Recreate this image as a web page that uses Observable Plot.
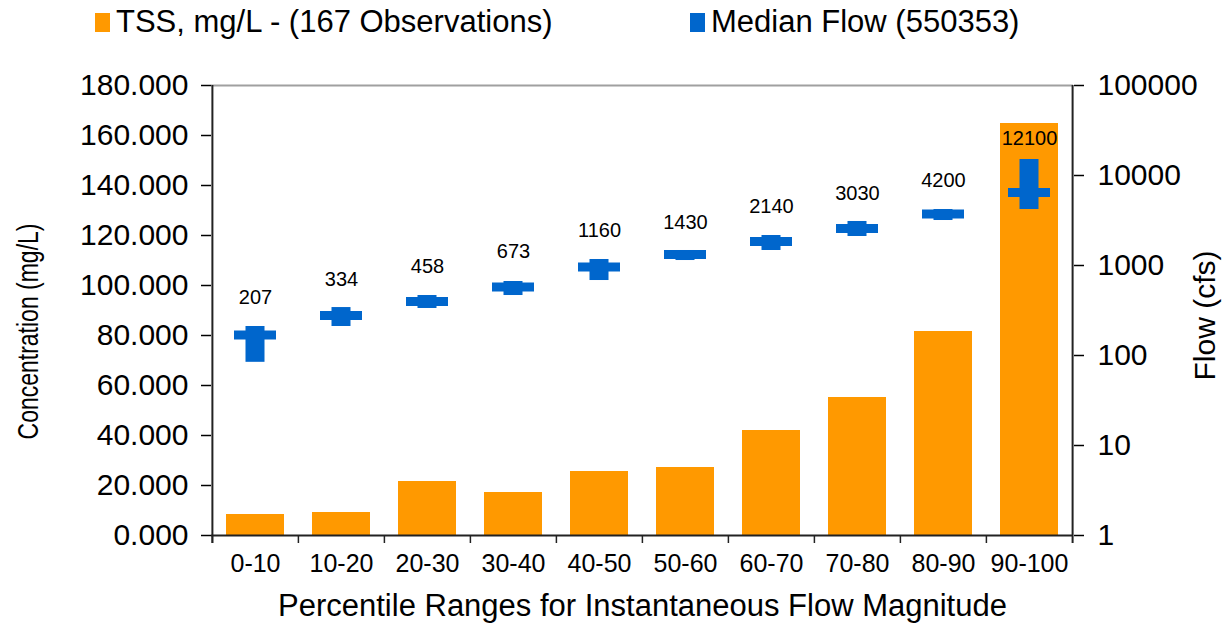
<!DOCTYPE html>
<html><head><meta charset="utf-8">
<script src="https://cdn.jsdelivr.net/npm/d3@7"></script>
<script src="https://cdn.jsdelivr.net/npm/@observablehq/plot@0.6"></script>
<style>
body{margin:0;background:#fff;font-family:"Liberation Sans",Arial,sans-serif;}
#wrap{position:relative;width:1222px;height:635px;overflow:hidden;}
#legend{position:absolute;top:0;left:0;width:1222px;height:45px;}
.item{position:absolute;top:4px;display:flex;align-items:center;font-size:31px;color:#000;white-space:nowrap;}
.sw{width:15px;height:19px;margin-right:6px;}
#chart{position:absolute;top:45px;left:0;}
</style></head><body>
<div id="wrap"><div id="legend"></div><div id="chart"></div></div>
<script>
// ---- data ----
const ranges = ["0-10","10-20","20-30","30-40","40-50","50-60","60-70","70-80","80-90","90-100"];
const tss = [8.4, 9.2, 21.6, 17.2, 25.6, 27.2, 42.0, 55.2, 81.6, 164.8];
const medianFlow = [169, 278, 398, 577, 962, 1325, 1848, 2577, 3735, 6471];
const flowLow = [84, 210, 333, 464, 681, 1136, 1468, 2100, 3162, 4188];
const flowHigh = [210, 341, 464, 664, 1166, 1468, 2154, 3084, 4188, 15060];
const flowLabels = [207, 334, 458, 673, 1160, 1430, 2140, 3030, 4200, 12100];
const concTicks = [0, 20, 40, 60, 80, 100, 120, 140, 160, 180];
const flowTicks = [1, 10, 100, 1000, 10000, 100000];
const legendItems = [
  {label: "TSS, mg/L - (167 Observations)", color: "#FF9900", left: 95},
  {label: "Median Flow (550353)", color: "#0066CC", left: 690}
];
const xTitle = "Percentile Ranges for Instantaneous Flow Magnitude";
const yTitle = "Concentration (mg/L)";
const y2Title = "Flow (cfs)";

// ---- legend ----
const leg = document.getElementById("legend");
for (const it of legendItems) {
  const d = document.createElement("div");
  d.className = "item";
  d.style.left = it.left + "px";
  const s = document.createElement("span");
  s.className = "sw"; s.style.background = it.color;
  const t = document.createElement("span");
  t.textContent = it.label;
  d.appendChild(s); d.appendChild(t);
  leg.appendChild(d);
}

// ---- chart ----
const W = 1222, H = 590, mL = 211, mR = 149, mT = 40, mB = 100;
const step = (W - mL - mR) / ranges.length;
const toY = f => Math.log10(f) / 5 * 180; // flow (log) -> concentration-axis units
const fromY = v => Math.round(Math.pow(10, v * 5 / 180));
const rows = ranges.map((r, i) => ({
  range: r, tss: tss[i],
  mid: toY(medianFlow[i]), lo: toY(flowLow[i]), hi: toY(flowHigh[i]),
  lab: toY(flowLabels[i]), label: String(flowLabels[i])
}));
const blue = "#0066CC", orange = "#FF9900", ink = "#222";

const plot = Plot.plot({
  width: W, height: H, marginLeft: mL, marginRight: mR, marginTop: mT, marginBottom: mB,
  style: {fontFamily: "Liberation Sans, Arial, sans-serif", color: "#000", background: "#fff", overflow: "visible"},
  x: {domain: ranges, paddingInner: 0.33, paddingOuter: 0.165},
  y: {domain: [0, 180]},
  marks: [
    Plot.barY(rows, {x: "range", y: "tss", fill: orange}),
    Plot.ruleY([180], {stroke: "#a0a0a0", strokeWidth: 2}),
    Plot.ruleY([0], {stroke: ink, strokeWidth: 2}),
    Plot.ruleX([ranges[0]], {x: d => d, dx: -step / 2, y1: -3.2, y2: 180, stroke: ink, strokeWidth: 2}),
    Plot.ruleX([ranges[ranges.length - 1]], {x: d => d, dx: step / 2, y1: -3.2, y2: 180, stroke: ink, strokeWidth: 2}),
    Plot.ruleX(ranges, {x: d => d, dx: -step / 2, y1: -3.2, y2: 0, stroke: ink, strokeWidth: 1.5}),
    Plot.axisY(concTicks, {anchor: "left", tickFormat: d3.format(".3f"), tickSize: 10, tickPadding: 13, fontSize: 30, strokeWidth: 1.5, label: null}),
    Plot.axisY(flowTicks.map(toY), {anchor: "right", tickFormat: d => String(fromY(d)), tickSize: 10, tickPadding: 14, fontSize: 30, strokeWidth: 1.5, label: null}),
    Plot.axisX({tickSize: 0, tickPadding: 19, fontSize: 25, label: null}),
    Plot.barY(rows, {x: "range", y1: "lo", y2: "hi", fill: blue, insetLeft: 19.5, insetRight: 19.5}),
    Plot.tickY(rows, {x: "range", y: "mid", stroke: blue, strokeWidth: 9, insetLeft: 8, insetRight: 8}),
    Plot.text(rows, {x: "range", y: "lab", text: "label", dy: -29, fontSize: 20, fill: "#000"}),
    Plot.text([xTitle], {frameAnchor: "bottom", dy: 80, fontSize: 31, textAnchor: "middle", fill: "#000"}),
    Plot.text([yTitle], {frameAnchor: "left", dx: -183, dy: 21, rotate: -90, textAnchor: "middle", fontSize: 23, fill: "#000"}),
    Plot.text([y2Title], {frameAnchor: "right", dx: 132, dy: 5, rotate: -90, textAnchor: "middle", fontSize: 30, fill: "#000"})
  ]
});
// widen the rotated left title's glyphs (the reference draws it wider than tall)
d3.select(plot).selectAll("text").filter(function() { return this.textContent === yTitle; })
  .each(function() {
    const t = this.getAttribute("transform") || "";
    this.setAttribute("transform", t + " scale(1,1.3)");
  });
document.getElementById("chart").appendChild(plot);
</script>
</body></html>
